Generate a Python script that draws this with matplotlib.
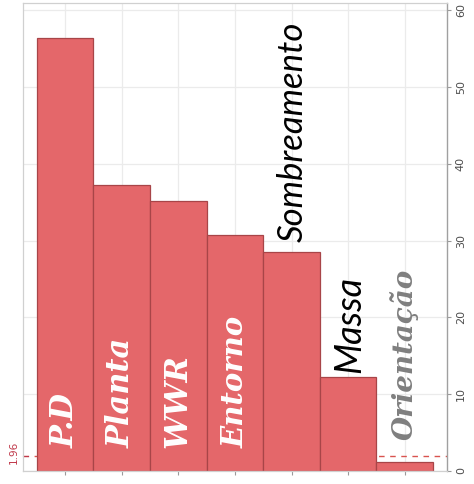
import matplotlib
matplotlib.use("Agg")
import matplotlib.pyplot as plt

# Factor effects, ordered from largest to smallest
factors = ["P.D", "Planta", "WWR", "Entorno", "Sombreamento", "Massa", "Orientação"]
effects = [56.4, 37.3, 35.2, 30.7, 28.5, 12.3, 1.15]
threshold = 1.96
y_ticks = [0, 10, 20, 30, 40, 50, 60]

# Label style per factor: inside the bar (white) or above it
label_inside = [True, True, True, True, False, False, False]
label_color = ["white", "white", "white", "white", "black", "black", "#7f7f7f"]
label_serif = [True, True, True, True, False, False, True]
label_size = [22, 22, 22, 21, 25, 26, 20]
# gap between bar top (or axis base) and start of the label
label_gap = [3.0, 3.0, 3.0, 3.0, 1.3, 0.5, 2.85]

fig = plt.figure(figsize=(4.74, 4.84), dpi=100)
ax = fig.add_axes([0.0485, 0.027, 0.894, 0.966])

x = list(range(1, len(factors) + 1))
ax.axhline(threshold, color="#d9534f", linestyle=(0, (4, 4)), linewidth=1.0, zorder=1)
ax.bar(x, effects, width=1.0, color="#e4676a", edgecolor="#a84548",
       linewidth=0.9, zorder=2)

for xi, name, val, inside, col, serif, size, gap in zip(
        x, factors, effects, label_inside, label_color, label_serif,
        label_size, label_gap):
    y0 = gap if inside else val + gap
    if serif:
        ax.text(xi, y0, name, rotation=90, ha="center", va="bottom",
                color=col, fontsize=size, fontweight="bold", fontstyle="italic",
                family="DejaVu Serif", zorder=3)
    else:
        ax.text(xi + 0.02, y0, name, rotation=90, ha="center", va="bottom",
                color=col, fontsize=size, fontstyle="italic",
                family="Lato", zorder=3)

ax.set_xlim(0.26, 7.74)
ax.set_ylim(0, 60.9)
ax.set_xticks(x)
ax.set_xticklabels([])
ax.set_yticks(y_ticks)
ax.yaxis.tick_right()
ax.set_yticklabels([str(v) for v in y_ticks], rotation=90, va="center",
                   fontsize=8, color="#4d4d4d")
ax.tick_params(axis="both", length=3, color="#9a9a9a", width=0.8)
ax.grid(True, color="#ebebeb", linewidth=0.9, zorder=0)
ax.set_axisbelow(True)
for side in ["top", "left", "bottom"]:
    ax.spines[side].set_color("#d0d0d0")
    ax.spines[side].set_linewidth(0.9)
ax.spines["right"].set_color("#a0a0a0")
ax.spines["right"].set_linewidth(1.0)

# Critical value marker on the left edge
ax.text(-0.01, threshold + 0.4, "1.96", transform=ax.get_yaxis_transform(),
        rotation=90, ha="right", va="center", color="#c0394a", fontsize=7.5)
ax.plot([0.26, 0.34], [threshold, threshold], color="#c0394a", lw=0.8,
        clip_on=False, zorder=1)

fig.savefig("out.png", dpi=100)
